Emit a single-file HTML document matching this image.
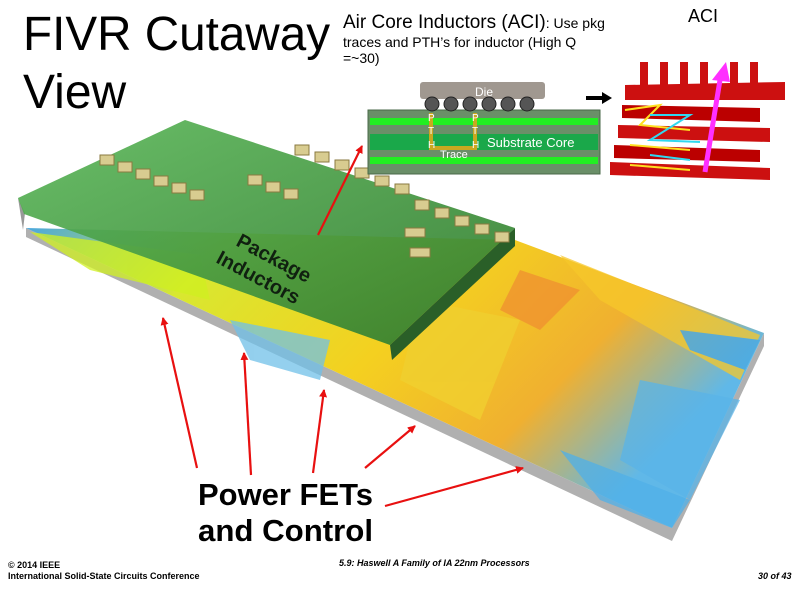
<!DOCTYPE html>
<html><head><meta charset="utf-8"><style>
body{margin:0;background:#fff;width:800px;height:590px;overflow:hidden}
svg{display:block}
text{font-family:"Liberation Sans",sans-serif}
</style></head><body>
<svg width="800" height="590" viewBox="0 0 800 590" xmlns="http://www.w3.org/2000/svg">
<defs>
<linearGradient id="die" x1="0" y1="0" x2="1" y2="0.4">
<stop offset="0" stop-color="#4aa8e0"/>
<stop offset="0.25" stop-color="#d8e830"/>
<stop offset="0.55" stop-color="#f4d020"/>
<stop offset="0.8" stop-color="#f0b030"/>
<stop offset="1" stop-color="#60b8e8"/>
</linearGradient>
<linearGradient id="grn" x1="0" y1="0" x2="1" y2="1">
<stop offset="0" stop-color="#5cb85a"/>
<stop offset="1" stop-color="#2f7a2c"/>
</linearGradient>
<marker id="ah" markerWidth="8" markerHeight="8" refX="7" refY="4" orient="auto" markerUnits="userSpaceOnUse"><path d="M0,0 L8,4 L0,8 Z" fill="#e81010"/></marker>
</defs>

<text x="23" y="50" font-size="48" textLength="307" lengthAdjust="spacingAndGlyphs">FIVR Cutaway</text>
<text x="23" y="108" font-size="48">View</text>

<text x="343" y="28" font-size="19">Air Core Inductors (ACI)<tspan font-size="14">: Use pkg</tspan></text>
<text x="343" y="47" font-size="14">traces and PTH’s for inductor (High Q</text>
<text x="343" y="63" font-size="14">=~30)</text>
<text x="688" y="22" font-size="18">ACI</text>

<!-- die slab -->
<polygon points="26,228 26,237 672,541 764,346 764,333 672,528" fill="#b0b0b0"/>
<polygon points="26,228 515,240 764,333 672,528" fill="url(#die)"/>
<g opacity="0.75">
<polygon points="30,232 200,255 210,300 90,270" fill="#d0f020"/>
<polygon points="560,255 760,335 740,380 600,300" fill="#f7c82a"/>
<polygon points="560,450 690,500 672,528 600,500" fill="#50b0e8"/>
<polygon points="640,380 740,400 690,500 620,460" fill="#5ab4e8"/>
<polygon points="420,300 520,320 480,420 400,380" fill="#f0d030"/>
<polygon points="230,320 330,340 320,380 250,360" fill="#70c0e8"/>
<polygon points="520,270 580,290 540,330 500,310" fill="#f09030"/>
<polygon points="680,330 760,340 745,370 690,350" fill="#4aa8e0"/>
</g>

<!-- green package -->
<polygon points="18,198 23,230 25,213" fill="#999"/>
<polygon points="515,228 515,246 392,360 390,345" fill="#2a5f28"/>
<polygon points="18,198 185,120 515,228 390,345 24,214" fill="url(#grn)" opacity="0.92"/>
<g fill="#d8cc90" stroke="#8a7a40" stroke-width="1">
<rect x="100" y="155" width="14" height="10"/><rect x="118" y="162" width="14" height="10"/><rect x="136" y="169" width="14" height="10"/><rect x="154" y="176" width="14" height="10"/><rect x="172" y="183" width="14" height="10"/><rect x="190" y="190" width="14" height="10"/>
<rect x="248" y="175" width="14" height="10"/><rect x="266" y="182" width="14" height="10"/><rect x="284" y="189" width="14" height="10"/>
<rect x="295" y="145" width="14" height="10"/><rect x="315" y="152" width="14" height="10"/><rect x="335" y="160" width="14" height="10"/><rect x="355" y="168" width="14" height="10"/><rect x="375" y="176" width="14" height="10"/><rect x="395" y="184" width="14" height="10"/><rect x="415" y="200" width="14" height="10"/><rect x="435" y="208" width="14" height="10"/><rect x="455" y="216" width="14" height="10"/><rect x="475" y="224" width="14" height="10"/><rect x="495" y="232" width="14" height="10"/>
<rect x="405" y="228" width="20" height="9"/><rect x="410" y="248" width="20" height="9"/>
</g>
<text x="0" y="0" font-size="20" font-weight="bold" fill="#102010" transform="translate(235,245) rotate(28)">Package</text>
<text x="0" y="0" font-size="20" font-weight="bold" fill="#102010" transform="translate(215,262) rotate(28)">Inductors</text>

<!-- cross section -->
<g>
<rect x="368" y="110" width="232" height="64" fill="#6a8f68" stroke="#4a6a48"/>
<rect x="370" y="118" width="228" height="7" fill="#22ee22"/>
<rect x="370" y="134" width="228" height="16" fill="#1aa84a"/>
<rect x="370" y="157" width="228" height="7" fill="#22ee22"/>
<rect x="420" y="82" width="125" height="17" rx="3" fill="#a09890"/>
<text x="475" y="96" font-size="12" fill="#fff">Die</text>
<g fill="#555" stroke="#222"><circle cx="432" cy="104" r="7"/><circle cx="451" cy="104" r="7"/><circle cx="470" cy="104" r="7"/><circle cx="489" cy="104" r="7"/><circle cx="508" cy="104" r="7"/><circle cx="527" cy="104" r="7"/></g>
<path d="M431,113 V148 H475 V113" fill="none" stroke="#c8a820" stroke-width="4"/>
<text x="428" y="121" font-size="10" fill="#fff">P</text><text x="472" y="121" font-size="10" fill="#fff">P</text>
<text x="428" y="134" font-size="10" fill="#fff">T</text><text x="472" y="134" font-size="10" fill="#fff">T</text>
<text x="428" y="148" font-size="10" fill="#fff">H</text><text x="472" y="148" font-size="10" fill="#fff">H</text>
<text x="440" y="158" font-size="11" fill="#fff">Trace</text>
<text x="487" y="147" font-size="13" fill="#fff">Substrate Core</text>
</g>
<path d="M586,98 H604" stroke="#000" stroke-width="4"/><path d="M602,92 L612,98 L602,104 Z" fill="#000"/>

<!-- ACI 3D -->
<g fill="#cc1010">
<rect x="640" y="62" width="8" height="30"/><rect x="660" y="62" width="8" height="30"/><rect x="680" y="62" width="8" height="30"/><rect x="700" y="62" width="8" height="30"/><rect x="730" y="62" width="8" height="30"/><rect x="750" y="62" width="8" height="30"/>
<polygon points="625,85 785,82 785,100 625,100"/>
<polygon points="622,105 760,108 760,122 622,118" fill="#b00"/>
<polygon points="618,125 770,128 770,142 618,138"/>
<polygon points="614,145 760,150 760,162 614,158" fill="#b00"/>
<polygon points="610,162 770,168 770,180 610,175"/>
</g>
<path d="M705,172 L720,80" stroke="#ff30ff" stroke-width="5"/>
<polygon points="712,80 726,62 730,82" fill="#ff30ff"/>
<path d="M625,110 L660,105 L640,125 L690,130 M630,145 L690,150 M630,165 L690,170" stroke="#ffe020" stroke-width="2" fill="none"/>
<path d="M650,115 L690,115 L650,140 L700,142 M650,155 L690,160" stroke="#30d8f0" stroke-width="2" fill="none"/>

<!-- red arrows -->
<g stroke="#e81010" stroke-width="2.2" marker-end="url(#ah)">
<line x1="197" y1="468" x2="163" y2="318"/>
<line x1="251" y1="475" x2="244" y2="353"/>
<line x1="313" y1="473" x2="324" y2="390"/>
<line x1="365" y1="468" x2="415" y2="426"/>
<line x1="385" y1="506" x2="523" y2="468"/>
<line x1="318" y1="235" x2="362" y2="146"/>
</g>

<text x="198" y="505" font-size="31" font-weight="bold" textLength="175" lengthAdjust="spacingAndGlyphs">Power FETs</text>
<text x="198" y="541" font-size="31" font-weight="bold" textLength="175" lengthAdjust="spacingAndGlyphs">and Control</text>

<text x="8" y="568" font-size="9" font-weight="bold">© 2014 IEEE</text>
<text x="8" y="579" font-size="9" font-weight="bold">International Solid-State Circuits Conference</text>
<text x="339" y="566" font-size="9" font-weight="bold" font-style="italic">5.9: Haswell A Family of IA 22nm Processors</text>
<text x="758" y="579" font-size="9" font-weight="bold" font-style="italic">30 of 43</text>
</svg>
</body></html>
